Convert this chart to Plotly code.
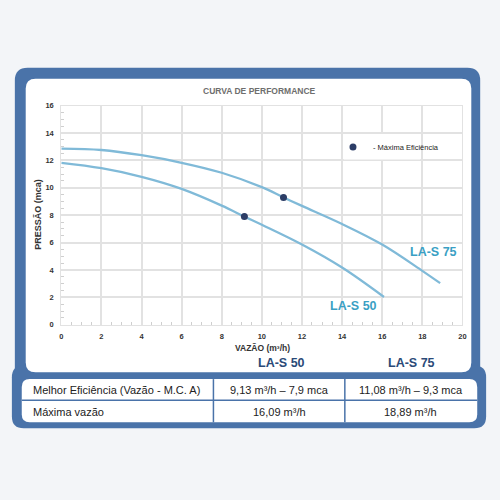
import plotly.graph_objects as go

# performance curves (vazão m³/h, pressão mca)
vazao_50 = [0, 2, 4, 6, 8, 9.13, 10, 12, 14, 16.09]
pressao_50 = [11.82, 11.43, 10.8, 9.92, 8.7, 7.9, 7.3, 5.86, 4.18, 2.03]
vazao_75 = [0, 2, 4, 6, 8, 10, 11.08, 12, 14, 16, 18, 18.89]
pressao_75 = [12.86, 12.76, 12.38, 11.83, 11.1, 10.05, 9.3, 8.68, 7.36, 5.86, 3.94, 3.04]

# best efficiency points
ef_vazao = [9.13, 11.08]
ef_pressao = [7.9, 9.3]

modelos = ["LA-S 50", "LA-S 75"]
tabela_rotulos = ["Melhor Eficiência (Vazão - M.C. A)", "Máxima vazão"]
tabela_50 = ["9,13 m³/h – 7,9 mca", "16,09 m³/h"]
tabela_75 = ["11,08 m³/h – 9,3 mca", "18,89 m³/h"]

W, H = 500, 500
BG = "#f3f5f8"
BLUE = "#4a73a9"
LINE = "#80bad8"
DOT = "#2c3d66"
LABEL = "#3a9fc4"
NAVY = "#2b4a78"
FONT = "Liberation Sans, Arial, sans-serif"


def px(x, y):
    return f"{x / W:.4f},{1 - y / H:.4f}"


def rrect(x0, y0, x1, y1, r):
    return ("M" + px(x0 + r, y0) + " L" + px(x1 - r, y0) + " Q" + px(x1, y0) + " " + px(x1, y0 + r)
            + " L" + px(x1, y1 - r) + " Q" + px(x1, y1) + " " + px(x1 - r, y1)
            + " L" + px(x0 + r, y1) + " Q" + px(x0, y1) + " " + px(x0, y1 - r)
            + " L" + px(x0, y0 + r) + " Q" + px(x0, y0) + " " + px(x0 + r, y0) + " Z")


fig = go.Figure()

fig.add_trace(go.Scatter(x=vazao_75, y=pressao_75, mode="lines", line=dict(color=LINE, width=2.3, shape="spline"),
                         showlegend=False, hoverinfo="skip"))
fig.add_trace(go.Scatter(x=vazao_50, y=pressao_50, mode="lines", line=dict(color=LINE, width=2.3, shape="spline"),
                         showlegend=False, hoverinfo="skip"))
fig.add_trace(go.Scatter(x=ef_vazao, y=ef_pressao, mode="markers", name="- Máxima Eficiência",
                         marker=dict(color=DOT, size=7)))

shapes = [
    dict(type="path", path=rrect(13, 65, 484, 400, 13), xref="paper", yref="paper",
         fillcolor=BLUE, line=dict(width=0), layer="below"),
    dict(type="path", path=rrect(10, 368, 490, 432, 12), xref="paper", yref="paper",
         fillcolor=BLUE, line=dict(width=0), layer="below"),
    dict(type="path", path=rrect(24, 76, 475, 375, 10), xref="paper", yref="paper",
         fillcolor="white", line=dict(width=0), layer="below"),
    dict(type="path", path=rrect(20, 382, 481, 426, 8), xref="paper", yref="paper",
         fillcolor="white", line=dict(width=0), layer="below"),
    # white box behind the legend
    dict(type="rect", x0=14.08, x1=17.9, y0=12.07, y1=13.93, xref="x", yref="y",
         fillcolor="white", line=dict(width=0), layer="between"),
    # table lines
    dict(type="line", x0=20 / W, x1=481 / W, y0=1 - 403.5 / H, y1=1 - 403.5 / H, xref="paper", yref="paper",
         line=dict(color=BLUE, width=1.5)),
    dict(type="line", x0=214 / W, x1=214 / W, y0=1 - 382 / H, y1=1 - 426 / H, xref="paper", yref="paper",
         line=dict(color=BLUE, width=1.5)),
    dict(type="line", x0=347 / W, x1=347 / W, y0=1 - 382 / H, y1=1 - 426 / H, xref="paper", yref="paper",
         line=dict(color=BLUE, width=1.5)),
]

ann = []


def note(text, x, y, size, color, weight="normal", angle=0, xanchor="center"):
    ann.append(dict(text=text, x=x / W, y=1 - y / H, xref="paper", yref="paper", showarrow=False,
                    xanchor=xanchor, yanchor="middle", textangle=angle,
                    font=dict(size=size, color=color, family=FONT, weight=weight)))


note("CURVA DE PERFORMANCE", 261, 89, 8.5, "#6e6e6e", "bold")
note("PRESSÃO (mca)", 37, 214, 9, "#333333", "bold", angle=-90)
note("VAZÃO (m³/h)", 264, 350, 8.5, "#333333", "bold")
note(modelos[0], 283, 366, 12.5, NAVY, "bold")
note(modelos[1], 414, 366, 12.5, NAVY, "bold")

# curve labels in data coordinates
for txt, lx, ly in [(modelos[1], 18.54, 5.33), (modelos[0], 14.57, 1.39)]:
    ann.append(dict(text=txt, x=lx, y=ly, xref="x", yref="y", showarrow=False,
                    font=dict(size=12.5, color=LABEL, family=FONT, weight="bold")))

# table text
row_y = [393, 415]
for i in range(2):
    note(tabela_rotulos[i], 29, row_y[i], 11, "#222222", xanchor="left")
    note(tabela_50[i], 280.5, row_y[i], 11, "#222222")
    note(tabela_75[i], 413.5, row_y[i], 11, "#222222")

axis_common = dict(
    showgrid=True, gridcolor="#e2e2e2", gridwidth=1.5,
    showline=True, linecolor="#e2e2e2", linewidth=1, mirror=True,
    zeroline=False, dtick=2, ticks="",
    tickfont=dict(size=7.5, color="#333333", family=FONT, weight="bold"),
    minor=dict(ticks="inside", ticklen=3, tickcolor="#cfcfcf", dtick=0.5, showgrid=False),
)

fig.update_layout(
    width=W, height=H,
    margin=dict(l=0, r=0, t=0, b=0),
    paper_bgcolor=BG,
    plot_bgcolor="rgba(0,0,0,0)",
    xaxis=dict(range=[0, 20], domain=[60 / W, 466 / W], ticklabelstandoff=4, **axis_common),
    yaxis=dict(range=[0, 16], domain=[1 - 326.7 / H, 1 - 103.5 / H], ticklabelstandoff=5, **axis_common),
    shapes=shapes,
    annotations=ann,
    showlegend=True,
    legend=dict(x=335 / W, y=1 - 145.7 / H, xanchor="left", yanchor="middle", bgcolor="rgba(0,0,0,0)",
                font=dict(size=7.5, family=FONT, color="#222222"), itemwidth=30),
)

fig.write_html("out.html", config={"displayModeBar": False},
               post_script="document.body.style.margin='0';document.body.style.background='%s';" % BG)
